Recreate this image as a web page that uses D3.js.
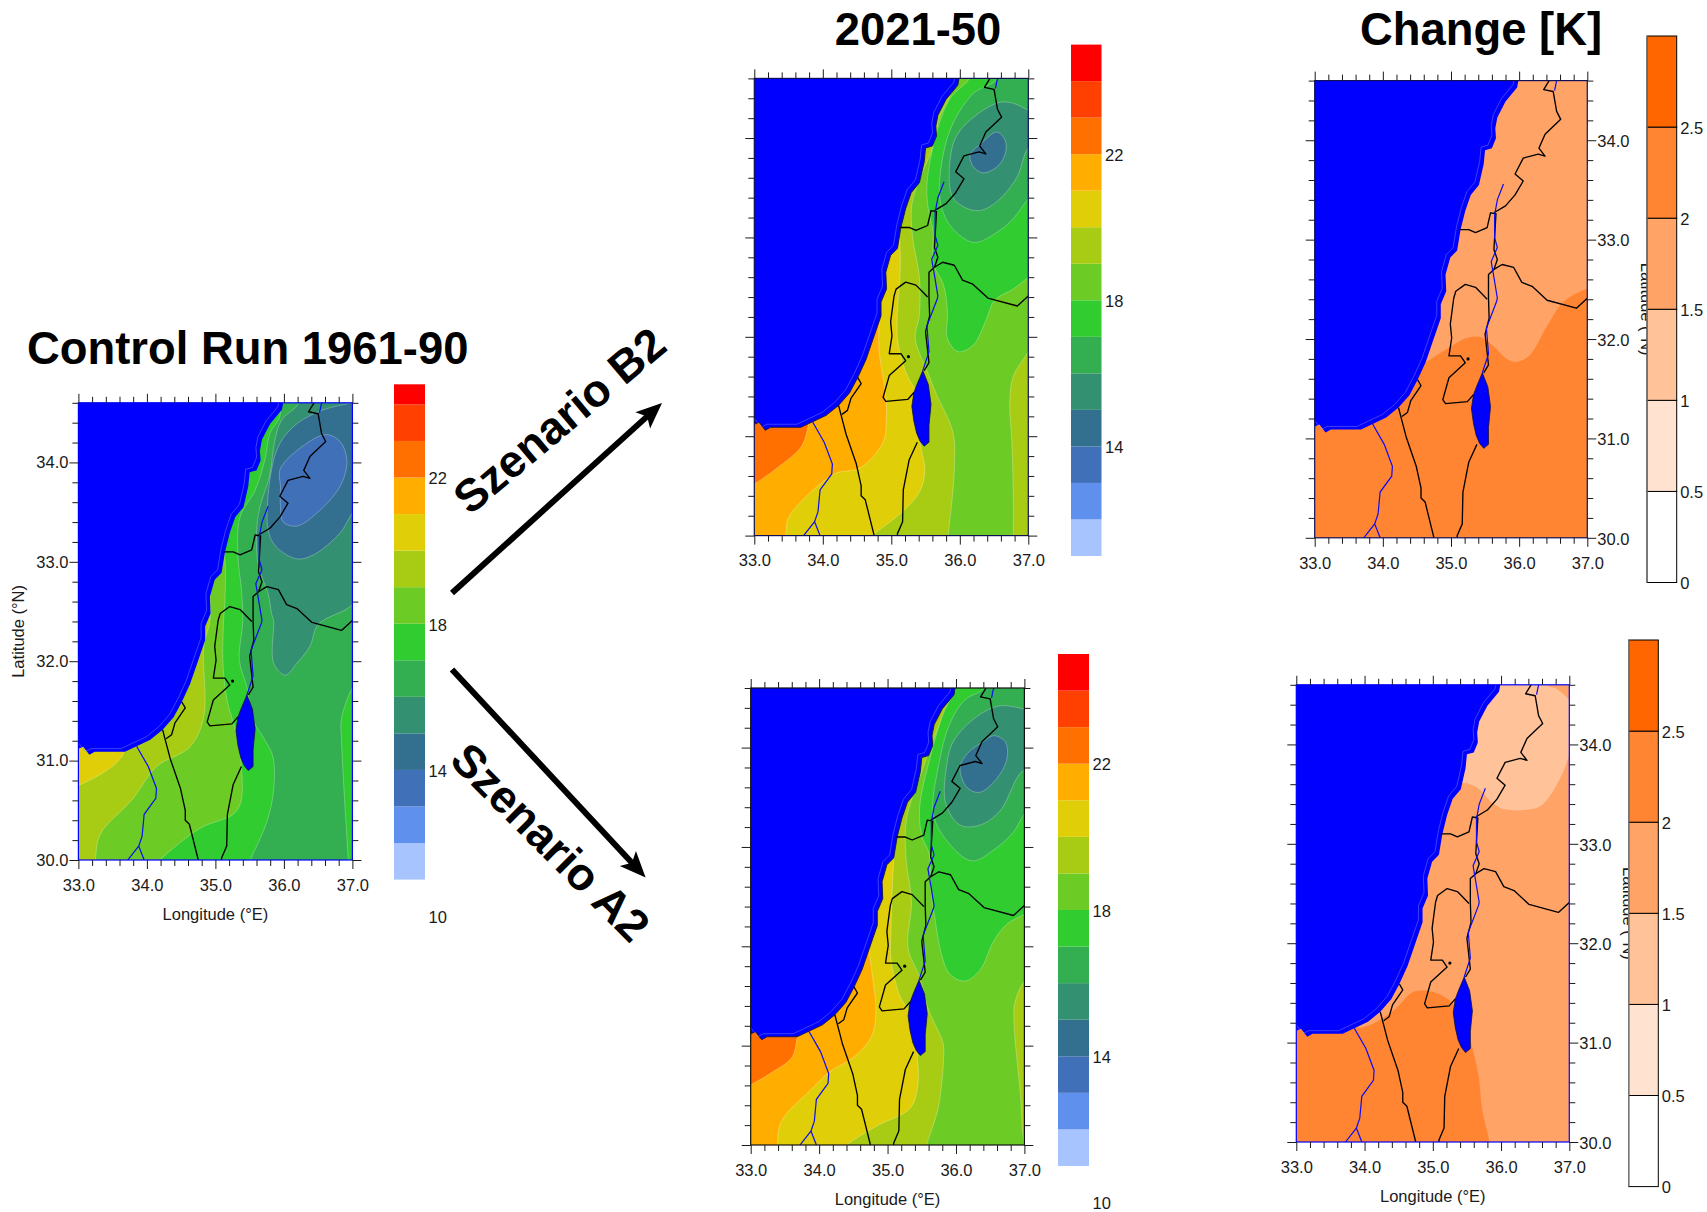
<!DOCTYPE html>
<html>
<head>
<meta charset="utf-8">
<title>Control run and scenarios</title>
<script src="https://cdn.jsdelivr.net/npm/d3@7"></script>
<style>
	html, body { margin: 0; padding: 0; background: #fff; }
	svg { display: block; font-family: "Liberation Sans", Arial, sans-serif; }
	.tick text { font-size: 16.5px; fill: #1a1a1a; font-family: "Liberation Sans", Arial, sans-serif; }
	.tick line { stroke: #1a1a1a; stroke-width: 1; }
	.label { font-size: 16.5px; fill: #1a1a1a; }
	.title { font-size: 45.4px; font-weight: bold; fill: #000; }
</style>
</head>
<body>
<svg id="chart" width="1707" height="1212"></svg>
<script>
(function(d3) {
	'use strict';

	/** scales, colors */
	var lonDomain = [33, 37];
	var latDomain = [30, 34.6];
	var lonMajor = [33, 34, 35, 36, 37];
	var latMajor = [30, 31, 32, 33, 34];
	var lonMinor = [33.2, 33.4, 33.6, 33.8, 34.2, 34.4, 34.6, 34.8, 35.2, 35.4, 35.6, 35.8, 36.2, 36.4, 36.6, 36.8];
	var latMinor = [30.2, 30.4, 30.6, 30.8, 31.2, 31.4, 31.6, 31.8, 32.2, 32.4, 32.6, 32.8, 33.2, 33.4, 33.6, 33.8, 34.2, 34.4, 34.6];

	var tempBreaks = [12, 13, 14, 15, 16, 17, 18, 19, 20, 21, 22, 23, 24];
	var tempColors = ['#a8c4ff', '#5f90ee', '#4070b8', '#337090', '#339070', '#33ae50', '#30cc30', '#6ccb24', '#a8cc14', '#e0cf08', '#ffae00', '#ff7000', '#ff4000', '#ff0000'];
	var tempLabels = [10, 14, 18, 22];
	var tempLabelsShort = [14, 18, 22];

	var changeBreaks = [0.5, 1, 1.5, 2, 2.5];
	var changeColors = ['#ffffff', '#ffe3d0', '#ffc299', '#ffa366', '#ff8533', '#ff6600'];
	var changeLabels = [0, 0.5, 1, 1.5, 2, 2.5];

	/** geography, [lon, lat] */
	var coast = [[33, 31.12], [33.07, 31.14], [33.16, 31.06], [33.24, 31.09], [33.68, 31.09], [33.85, 31.145], [34.05, 31.21], [34.23, 31.31], [34.39, 31.435], [34.51, 31.59], [34.63, 31.77], [34.73, 31.97], [34.85, 32.21], [34.85, 32.35], [34.93, 32.48], [34.92, 32.65], [34.99, 32.82], [35.09, 32.89], [35.14, 33.1], [35.21, 33.29], [35.29, 33.45], [35.41, 33.55], [35.48, 33.76], [35.5, 33.9], [35.6, 33.92], [35.66, 34.02], [35.65, 34.12], [35.68, 34.23], [35.8, 34.39], [35.97, 34.53], [35.99, 34.6]];
	var seaOut = [[35.99, 34.9], [32.5, 34.9], [32.5, 31.12]];
	var deadSea = [[35.46, 31.66], [35.38, 31.53], [35.33, 31.44], [35.3, 31.3], [35.33, 31.15], [35.37, 31.03], [35.42, 30.95], [35.48, 30.9], [35.55, 30.94], [35.55, 31.11], [35.58, 31.32], [35.54, 31.52]];
	var jerusalem = [35.25, 31.8];

	var borderSinai = [[34.23, 31.31], [34.34, 31.02], [34.49, 30.72], [34.56, 30.5], [34.56, 30.4], [34.62, 30.36], [34.75, 30]];
	var borderGaza = [[34.28, 31.22], [34.36, 31.26], [34.41, 31.38], [34.56, 31.53], [34.51, 31.59]];
	var borderArava = [[35.38, 30.94], [35.26, 30.76], [35.175, 30.46], [35.165, 30.14], [35.09, 30.02], [35.09, 30]];
	var borderWestBank = [[35.53, 32.4], [35.46, 32.45], [35.36, 32.52], [35.21, 32.55], [35.07, 32.48], [35.04, 32.41], [34.99, 32.15], [35.01, 32.01], [34.97, 31.83], [35.14, 31.83], [35.21, 31.76], [34.97, 31.61], [34.88, 31.39], [34.92, 31.35], [35.24, 31.37], [35.33, 31.44]];
	var borderJordan = [[35.48, 31.66], [35.55, 31.74], [35.5, 32.05], [35.56, 32.21], [35.55, 32.41], [35.55, 32.65], [35.63, 32.7]];
	var borderSyria = [[35.63, 32.7], [35.75, 32.75], [35.92, 32.72], [36.04, 32.57], [36.19, 32.53], [36.41, 32.39], [36.84, 32.31], [37, 32.41]];
	var borderGolan = [[35.63, 32.7], [35.68, 32.8], [35.63, 32.9], [35.66, 33.26], [35.58, 33.27], [35.53, 33.12], [35.36, 33.07], [35.26, 33.1], [35.13, 33.1]];
	var borderLebanon = [[35.63, 33.27], [35.8, 33.34], [35.94, 33.45], [36.06, 33.59], [35.94, 33.66], [36.06, 33.82], [36.28, 33.86], [36.38, 33.84], [36.29, 33.92], [36.38, 34.06], [36.61, 34.21], [36.55, 34.29], [36.5, 34.49], [36.36, 34.51], [36.44, 34.6]];
	var borders = [borderSinai, borderGaza, borderArava, borderWestBank, borderJordan, borderSyria, borderGolan, borderLebanon];

	var riverJordan = [[35.77, 33.56], [35.68, 33.4], [35.64, 33.25], [35.64, 33.02], [35.68, 32.92], [35.59, 32.78], [35.63, 32.62], [35.68, 32.41], [35.67, 32.38], [35.52, 32.11], [35.55, 31.85], [35.46, 31.66]];
	var riverNorth = [[36.55, 34.6], [36.52, 34.5]];
	var riverWadi = [[33.85, 31.145], [34.02, 30.94], [34.14, 30.72], [34.13, 30.62], [33.96, 30.46], [33.93, 30.24], [33.88, 30.14], [33.72, 30]];
	var riverWadiBranch = [[33.88, 30.14], [33.96, 30]];
	var rivers = [riverJordan, riverNorth, riverWadi, riverWadiBranch];

	/** control run, isolines */
	var ctlIso20 = [[32.5, 30.6], [33, 30.75], [33.32, 30.86], [33.56, 30.98], [33.68, 31.1], [33.75, 31.3]];
	var ctlIso19 = [[34.9, 32.9], [34.92, 32.41], [34.83, 32.15], [34.83, 31.44], [34.63, 31.14], [34.14, 30.94], [33.8, 30.62], [33.32, 30.26], [33.25, 30], [33.25, 29.8]];
	var ctlIso18 = [[35.1, 33.2], [35.14, 33.02], [35.14, 32.62], [35.12, 32.41], [35.11, 31.98], [35.17, 31.61], [35.29, 31.31], [35.38, 30.94], [35.37, 30.58], [35.26, 30.46], [34.78, 30.32], [34.19, 30], [34, 29.85]];
	var ctlIso17 = [[35.93, 34.7], [35.94, 34.46], [35.8, 34.3], [35.72, 34.02], [35.58, 33.72], [35.36, 33.45], [35.33, 33.05], [35.38, 32.72], [35.4, 32.41], [35.35, 32.01], [35.46, 31.74], [35.55, 31.41], [35.72, 31.21], [35.84, 31.04], [35.85, 30.7], [35.75, 30.38], [35.51, 30], [35.4, 29.8]];
	var ctlIso17East = [[37.2, 31.9], [37, 31.73], [36.84, 31.42], [36.84, 31.22], [36.94, 30], [36.96, 29.8]];
	var ctlIso16 = [[36.25, 34.8], [36.21, 34.59], [35.97, 34.43], [35.87, 34.23], [35.79, 33.86], [35.65, 33.55], [35.6, 33.29], [35.63, 32.95], [35.77, 32.68], [35.82, 32.48], [35.85, 32.41], [35.85, 31.98], [36.02, 31.86], [36.19, 31.98], [36.38, 32.15], [36.5, 32.37], [36.97, 32.55], [37.3, 32.8]];
	var ctlIso15 = [[37.3, 34.66], [36.99, 34.6], [36.58, 34.53], [36.19, 34.39], [35.94, 34.19], [35.81, 33.89], [35.77, 33.32], [35.89, 33.15], [36.19, 33.03], [36.43, 33.07], [36.82, 33.29], [37, 33.49], [37.3, 33.7]];
	var ctlIso14 = [[35.95, 33.94], [36.33, 34.19], [36.62, 34.28], [36.82, 34.21], [36.92, 34.02], [36.82, 33.76], [36.48, 33.49], [36.19, 33.36], [35.99, 33.4], [35.95, 33.55], [35.95, 33.75]];

	/** scenario B2, isolines */
	var b2Iso22 = [[32.5, 30.35], [33, 30.52], [33.37, 30.7], [33.69, 30.9], [33.8, 31.15], [33.85, 31.4]];
	var b2Iso21 = [[34.8, 32.4], [34.82, 32.18], [34.82, 31.87], [34.91, 31.46], [34.93, 31.21], [34.88, 30.94], [34.54, 30.68], [34.2, 30.63], [33.96, 30.52], [33.5, 30.18], [33.46, 30], [33.44, 29.8]];
	var b2Iso20 = [[35.12, 33], [35.13, 32.84], [35.13, 32.67], [35.09, 31.98], [35.22, 31.63], [35.37, 31.42], [35.42, 30.94], [35.49, 30.66], [35.42, 30.45], [35.18, 30.25], [34.76, 30.02], [34.5, 29.85]];
	var b2Iso19 = [[35.95, 34.7], [35.86, 34.43], [35.71, 34.22], [35.59, 33.88], [35.42, 33.6], [35.3, 33.33], [35.31, 33.01], [35.41, 32.6], [35.41, 32.22], [35.35, 31.98], [35.52, 31.66], [35.66, 31.42], [35.9, 31.04], [35.92, 30.66], [35.83, 30], [35.8, 29.8]];
	var b2Iso19East = [[37.3, 32.2], [37, 31.85], [36.78, 31.6], [36.73, 31.35], [36.76, 30.94], [36.78, 30.42], [36.78, 30], [36.78, 29.8]];
	var b2Iso18 = [[36.2, 34.8], [36.14, 34.6], [35.86, 34.4], [35.66, 34.05], [35.52, 33.53], [35.54, 33.29], [35.61, 33.05], [35.61, 32.74], [35.76, 32.53], [35.82, 32.25], [35.82, 31.98], [35.98, 31.85], [36.2, 31.92], [36.39, 32.18], [36.51, 32.37], [36.78, 32.48], [37, 32.6], [37.3, 32.75]];
	var b2Iso17 = [[36.6, 34.8], [36.54, 34.59], [36.2, 34.45], [35.91, 34.16], [35.76, 33.84], [35.71, 33.39], [35.86, 33.12], [36.2, 32.95], [36.54, 33.05], [36.78, 33.19], [37, 33.39], [37.3, 33.6]];
	var b2Iso16 = [[37.3, 34.2], [37, 34.28], [36.78, 34.35], [36.59, 34.36], [36.34, 34.28], [36, 34.07], [35.88, 33.88], [35.88, 33.43], [36.05, 33.31], [36.29, 33.27], [36.54, 33.36], [36.83, 33.6], [37, 33.9], [37.3, 34.05]];
	var b2Iso15 = [[36.54, 34.06], [36.66, 33.98], [36.67, 33.86], [36.56, 33.72], [36.34, 33.65], [36.2, 33.71], [36.15, 33.83], [36.32, 33.95]];

	/** scenario A2, isolines */
	var a2Iso22 = [[32.5, 30.45], [33.01, 30.61], [33.33, 30.74], [33.6, 30.88], [33.68, 31.08], [33.75, 31.4]];
	var a2Iso21 = [[34.68, 32.2], [34.73, 31.94], [34.79, 31.65], [34.83, 31.36], [34.77, 31.1], [34.5, 30.88], [34.16, 30.74], [33.87, 30.55], [33.45, 30.24], [33.39, 30], [33.38, 29.8]];
	var a2Iso20 = [[35.1, 32.95], [35.08, 32.74], [35.05, 32.16], [35.05, 31.87], [35.18, 31.5], [35.33, 31.32], [35.43, 30.92], [35.44, 30.59], [35.33, 30.37], [34.84, 30.19], [34.4, 30], [34.2, 29.88]];
	var a2Iso19 = [[35.9, 34.75], [35.86, 34.39], [35.72, 34.17], [35.52, 33.8], [35.28, 33.29], [35.27, 32.89], [35.35, 32.45], [35.3, 31.98], [35.47, 31.69], [35.6, 31.36], [35.81, 31.03], [35.82, 30.88], [35.74, 30.37], [35.57, 30], [35.5, 29.8]];
	var a2Iso19East = [[37.3, 31.85], [37, 31.65], [36.86, 31.43], [36.85, 31.21], [36.94, 30.52], [37, 30], [37.1, 29.8]];
	var a2Iso18 = [[36, 34.75], [36, 34.6], [35.82, 34.35], [35.6, 33.84], [35.47, 33.4], [35.5, 33.11], [35.61, 32.93], [35.63, 32.6], [35.72, 32.16], [35.78, 31.94], [35.91, 31.72], [36.13, 31.65], [36.35, 31.76], [36.55, 32.05], [36.74, 32.22], [37, 32.32], [37.3, 32.4]];
	var a2Iso17 = [[36.5, 34.75], [36.4, 34.59], [36.13, 34.48], [35.91, 34.24], [35.74, 33.8], [35.67, 33.33], [35.86, 33.07], [36.23, 32.86], [36.57, 32.98], [36.84, 33.15], [37, 33.33], [37.3, 33.5]];
	var a2Iso16 = [[37.3, 34.35], [37, 34.39], [36.64, 34.42], [36.3, 34.31], [35.96, 34.06], [35.86, 33.8], [35.85, 33.44], [36.06, 33.22], [36.35, 33.22], [36.64, 33.36], [37, 33.77], [37.3, 33.6]];
	var a2Iso15 = [[36.55, 34.12], [36.72, 34.06], [36.75, 33.91], [36.64, 33.73], [36.35, 33.55], [36.16, 33.6], [36.06, 33.8], [36.18, 33.95], [36.4, 34.06]];

	/** change, isolines */
	var dB2Iso2 = [[34.4, 31.65], [34.64, 31.77], [34.94, 31.9], [35.23, 32.01], [35.43, 32.02], [35.62, 31.93], [35.82, 31.8], [35.96, 31.77], [36.16, 31.84], [36.4, 32.12], [36.66, 32.38], [37, 32.51], [37.3, 32.6]];
	var dA2Iso2 = [[33.7, 31.2], [33.93, 31.15], [34.23, 31.23], [34.47, 31.35], [34.71, 31.51], [35.01, 31.51], [35.25, 31.42], [35.45, 31.23], [35.54, 31.05], [35.67, 30.67], [35.72, 30.34], [35.83, 30], [35.87, 29.8]];
	var dA2Iso15 = [[35.3, 33.55], [35.41, 33.61], [35.64, 33.57], [35.86, 33.42], [36.03, 33.35], [36.52, 33.36], [36.67, 33.44], [36.91, 33.72], [37, 33.89], [37.3, 34.3]];
	var dA2Corner = [[36.6, 34.8], [36.67, 34.6], [36.81, 34.56], [37, 34.45], [37.3, 34.25]];

	/** band value and outer corners of every region, drawn in this order */
	var ctlRegions = [
		{ v: 17.5, pts: ctlIso17, out: [[32.5, 29.8], [32.5, 34.7]] },
		{ v: 18.5, pts: ctlIso18, out: [[32.5, 29.8], [32.5, 33.2]] },
		{ v: 19.5, pts: ctlIso19, out: [[32.5, 29.8], [32.5, 32.9]] },
		{ v: 20.5, pts: ctlIso20, out: [[32.5, 31.3]] },
		{ v: 17.5, pts: ctlIso17East, out: [[37.3, 29.8], [37.3, 31.9]] },
		{ v: 15.5, pts: ctlIso16, out: [[37.3, 34.8]] },
		{ v: 14.5, pts: ctlIso15, out: [] },
		{ v: 13.5, pts: ctlIso14, closed: true }
	];
	var b2Regions = [
		{ v: 19.5, pts: b2Iso19, out: [[32.5, 29.8], [32.5, 34.7]] },
		{ v: 20.5, pts: b2Iso20, out: [[32.5, 29.8], [32.5, 33]] },
		{ v: 21.5, pts: b2Iso21, out: [[32.5, 29.8], [32.5, 32.4]] },
		{ v: 22.5, pts: b2Iso22, out: [[32.5, 31.4]] },
		{ v: 19.5, pts: b2Iso19East, out: [[37.3, 29.8]] },
		{ v: 17.5, pts: b2Iso18, out: [[37.3, 34.8]] },
		{ v: 16.5, pts: b2Iso17, out: [[37.3, 34.8]] },
		{ v: 15.5, pts: b2Iso16, out: [] },
		{ v: 14.5, pts: b2Iso15, closed: true }
	];
	var a2Regions = [
		{ v: 19.5, pts: a2Iso19, out: [[32.5, 29.8], [32.5, 34.75]] },
		{ v: 20.5, pts: a2Iso20, out: [[32.5, 29.8], [32.5, 32.95]] },
		{ v: 21.5, pts: a2Iso21, out: [[32.5, 29.8], [32.5, 32.2]] },
		{ v: 22.5, pts: a2Iso22, out: [[32.5, 31.4]] },
		{ v: 19.5, pts: a2Iso19East, out: [[37.3, 29.8]] },
		{ v: 17.5, pts: a2Iso18, out: [[37.3, 34.75]] },
		{ v: 16.5, pts: a2Iso17, out: [[37.3, 34.75]] },
		{ v: 15.5, pts: a2Iso16, out: [[37.3, 34.35]] },
		{ v: 14.5, pts: a2Iso15, closed: true }
	];
	var dB2Regions = [
		{ v: 2.25, pts: dB2Iso2, out: [[37.3, 29.8], [32.5, 29.8], [32.5, 31.65]] }
	];
	var dA2Regions = [
		{ v: 2.25, pts: dA2Iso2, out: [[32.5, 29.8], [32.5, 31.2]] },
		{ v: 1.25, pts: dA2Iso15, out: [[37.3, 34.9], [35.3, 34.9]] },
		{ v: 1.75, pts: dA2Corner, out: [[37.3, 34.8]] }
	];

	var svg = d3.select('#chart');
	var tempColor = d3.scaleThreshold().domain(tempBreaks).range(tempColors);
	var changeColor = d3.scaleThreshold().domain(changeBreaks).range(changeColors);

	/** one map */
	var renderMap = function(id, box, opts) {
		var x = d3.scaleLinear().domain(lonDomain).range([box.x0, box.x1]);
		var y = d3.scaleLinear().domain(latDomain).range([box.y1, box.y0]);
		var corners = function(list) {
			return list.map(function(p) {
				return 'L' + x(p[0]) + ',' + y(p[1]);
			}).join('');
		};
		var g = svg.append('g');

		svg.append('clipPath').attr('id', 'clip-' + id).append('rect')
			.attr('x', box.x0).attr('y', box.y0)
			.attr('width', box.x1 - box.x0).attr('height', box.y1 - box.y0);
		var field = g.append('g').attr('clip-path', 'url(#clip-' + id + ')');

		field.append('rect')
			.attr('x', box.x0).attr('y', box.y0)
			.attr('width', box.x1 - box.x0).attr('height', box.y1 - box.y0)
			.attr('fill', opts.color(opts.base));

		var straight = d3.line().x(function(p) { return x(p[0]); }).y(function(p) { return y(p[1]); });
		var loop = d3.line().x(function(p) { return x(p[0]); }).y(function(p) { return y(p[1]); }).curve(d3.curveCatmullRomClosed);
		var curve = d3.line().x(function(p) { return x(p[0]); }).y(function(p) { return y(p[1]); }).curve(d3.curveCatmullRom);

		opts.regions.forEach(function(r) {
			var edge = r.closed ? loop(r.pts) : curve(r.pts);
			var fill = r.closed ? edge : edge + corners(r.out) + 'Z';
			field.append('path').attr('d', fill).attr('fill', opts.color(r.v));
			if (opts.isolines) {
				field.append('path').attr('d', edge).attr('fill', 'none')
					.attr('stroke', 'rgba(255,255,255,0.27)').attr('stroke-width', 1);
			}
		});

		/** sea and dead sea */
		field.append('path').attr('d', straight(coast) + corners(seaOut) + 'Z').attr('fill', '#0000ff');
		field.append('path').attr('d', straight(coast)).attr('fill', 'none')
			.attr('stroke', 'rgba(150,155,255,0.4)').attr('stroke-width', 1)
			.attr('transform', 'translate(-4,-3)');
		if (opts.coastStroke) {
			field.append('path').attr('d', straight(coast)).attr('fill', 'none')
				.attr('stroke', '#151540').attr('stroke-width', 0.9);
		}
		field.append('path').attr('d', straight(deadSea) + 'Z').attr('fill', '#0000ff')
			.attr('stroke', '#101040').attr('stroke-width', 0.8).attr('stroke-linejoin', 'round');

		field.selectAll('path.border').data(borders).enter().append('path')
			.attr('class', 'border').attr('d', straight).attr('fill', 'none')
			.attr('stroke', '#000').attr('stroke-width', 1.35).attr('stroke-linejoin', 'round');
		field.selectAll('path.river').data(rivers).enter().append('path')
			.attr('class', 'river').attr('d', straight).attr('fill', 'none')
			.attr('stroke', '#0c0cf0').attr('stroke-width', 1.2);
		field.append('circle').attr('cx', x(jerusalem[0])).attr('cy', y(jerusalem[1])).attr('r', 1.6).attr('fill', '#000');

		/** frame */
		g.append('rect')
			.attr('x', box.x0).attr('y', box.y0)
			.attr('width', box.x1 - box.x0).attr('height', box.y1 - box.y0)
			.attr('fill', 'none').attr('stroke', opts.frame).attr('stroke-width', 1.2);

		/** ticks */
		var addAxis = function(axis, tx, ty) {
			var a = g.append('g').attr('transform', 'translate(' + tx + ',' + ty + ')').call(axis);
			a.select('.domain').remove();
			return a;
		};
		addAxis(d3.axisTop(x).tickValues(lonMajor).tickSize(9).tickFormat(''), 0, box.y0);
		addAxis(d3.axisTop(x).tickValues(lonMinor).tickSize(6).tickFormat(''), 0, box.y0);
		addAxis(d3.axisBottom(x).tickValues(lonMajor).tickSize(9).tickPadding(10).tickFormat(d3.format('.1f')), 0, box.y1);
		addAxis(d3.axisBottom(x).tickValues(lonMinor).tickSize(6).tickFormat(''), 0, box.y1);
		addAxis(d3.axisLeft(y).tickValues(latMajor).tickSize(9).tickPadding(1).tickFormat(opts.latSide === 'left' ? d3.format('.1f') : ''), box.x0, 0);
		addAxis(d3.axisLeft(y).tickValues(latMinor).tickSize(6).tickFormat(''), box.x0, 0);
		addAxis(d3.axisRight(y).tickValues(latMajor).tickSize(9).tickPadding(1).tickFormat(opts.latSide === 'right' ? d3.format('.1f') : ''), box.x1, 0)
			.selectAll('text').attr('dy', '.38em');
		addAxis(d3.axisRight(y).tickValues(latMinor).tickSize(6).tickFormat(''), box.x1, 0);

		/** axis titles */
		var midX = (box.x0 + box.x1) / 2, midY = (box.y0 + box.y1) / 2;
		if (opts.lonTitle) {
			g.append('text').attr('class', 'label').attr('x', midX).attr('y', box.y1 + 60)
				.attr('text-anchor', 'middle').text('Longitude (°E)');
		}
		if (opts.latSide === 'left') {
			g.append('text').attr('class', 'label').attr('text-anchor', 'middle')
				.attr('transform', 'translate(' + (box.x0 - 54) + ',' + midY + ') rotate(-90)')
				.text('Latitude (°N)');
		}
		if (opts.latSide === 'right') {
			g.append('text').attr('class', 'label').attr('text-anchor', 'middle')
				.attr('transform', 'translate(' + (box.x1 + 54) + ',' + midY + ') rotate(90)')
				.text('Latitude (°N)');
		}
	};

	/** one color bar */
	var renderBar = function(box, breaks, colors, domain, labels, outlined) {
		var y = d3.scaleLinear().domain(domain).range([box.y1, box.y0]);
		var edges = [domain[0]].concat(breaks, [domain[1]]);
		var g = svg.append('g');
		g.selectAll('rect').data(colors).enter().append('rect')
			.attr('x', box.x0).attr('width', box.x1 - box.x0)
			.attr('y', function(c, i) { return y(edges[i + 1]); })
			.attr('height', function(c, i) { return y(edges[i]) - y(edges[i + 1]); })
			.attr('fill', function(c) { return c; })
			.attr('stroke', outlined ? '#000' : 'none').attr('stroke-width', outlined ? 1 : 0);
		if (outlined) {
			g.append('line').attr('x1', box.x0).attr('x2', box.x0).attr('y1', box.y0).attr('y2', box.y1)
				.attr('stroke', '#777').attr('stroke-width', 1.4);
		}
		g.selectAll('text').data(labels).enter().append('text')
			.attr('class', 'label').attr('x', box.x1 + 3.5)
			.attr('y', function(v) { return y(v) + 1; }).attr('dy', '.35em')
			.text(function(v) { return v; });
	};

	/** arrows between the runs */
	var renderArrow = function(from, to) {
		var angle = Math.atan2(to[1] - from[1], to[0] - from[0]) * 180 / Math.PI;
		var len = Math.sqrt(Math.pow(to[0] - from[0], 2) + Math.pow(to[1] - from[1], 2));
		var g = svg.append('g').attr('transform', 'translate(' + from[0] + ',' + from[1] + ') rotate(' + angle + ')');
		g.append('line').attr('x1', 0).attr('x2', len - 14).attr('y1', 0).attr('y2', 0)
			.attr('stroke', '#000').attr('stroke-width', 6);
		g.append('path').attr('fill', '#000')
			.attr('d', 'M' + len + ',0L' + (len - 26) + ',-11L' + (len - 20) + ',0L' + (len - 26) + ',11Z');
	};

	renderMap('ctl', { x0: 78.4, x1: 352.4, y0: 402.8, y1: 860 }, {
		base: 16.5, regions: ctlRegions, color: tempColor, isolines: true, frame: '#0000ff', latSide: 'left', lonTitle: true
	});
	renderMap('b2', { x0: 754.3, x1: 1028.3, y0: 78.4, y1: 535.6 }, {
		base: 18.5, regions: b2Regions, color: tempColor, isolines: true, coastStroke: true, frame: '#10105a'
	});
	renderMap('a2', { x0: 750.7, x1: 1024.4, y0: 688, y1: 1145 }, {
		base: 18.5, regions: a2Regions, color: tempColor, isolines: true, coastStroke: true, frame: '#111', lonTitle: true
	});
	renderMap('db2', { x0: 1314.7, x1: 1587.3, y0: 80.6, y1: 537.8 }, {
		base: 1.75, regions: dB2Regions, color: changeColor, frame: '#10105a', latSide: 'right'
	});
	renderMap('da2', { x0: 1296.3, x1: 1569.3, y0: 684.8, y1: 1142 }, {
		base: 1.75, regions: dA2Regions, color: changeColor, frame: '#0000ff', latSide: 'right', lonTitle: true
	});

	renderBar({ x0: 394, x1: 425, y0: 384.3, y1: 879.6 }, tempBreaks, tempColors, [11, 24.55], tempLabels);
	renderBar({ x0: 1071, x1: 1101.5, y0: 44.6, y1: 556 }, tempBreaks, tempColors, [11, 25], tempLabelsShort);
	renderBar({ x0: 1058, x1: 1089, y0: 654, y1: 1166 }, tempBreaks, tempColors, [11, 25], tempLabels);
	renderBar({ x0: 1647, x1: 1676.7, y0: 36, y1: 582.5 }, changeBreaks, changeColors, [0, 3], changeLabels, true);
	renderBar({ x0: 1628.7, x1: 1658.3, y0: 640, y1: 1186.6 }, changeBreaks, changeColors, [0, 3], changeLabels, true);

	renderArrow([452, 593], [662, 403]);
	renderArrow([452, 669.5], [645.6, 877.5]);

	svg.append('text').attr('class', 'title').attr('x', 27).attr('y', 364).text('Control Run 1961-90');
	svg.append('text').attr('class', 'title').attr('x', 918).attr('y', 45).attr('text-anchor', 'middle').text('2021-50');
	svg.append('text').attr('class', 'title').attr('x', 1481).attr('y', 45).attr('text-anchor', 'middle').text('Change [K]');
	svg.append('text').attr('class', 'title').attr('transform', 'translate(470,516) rotate(-40)').text('Szenario B2');
	svg.append('text').attr('class', 'title').attr('transform', 'translate(448,762) rotate(45)').text('Szenario A2');
})(d3);
</script>
</body>
</html>
